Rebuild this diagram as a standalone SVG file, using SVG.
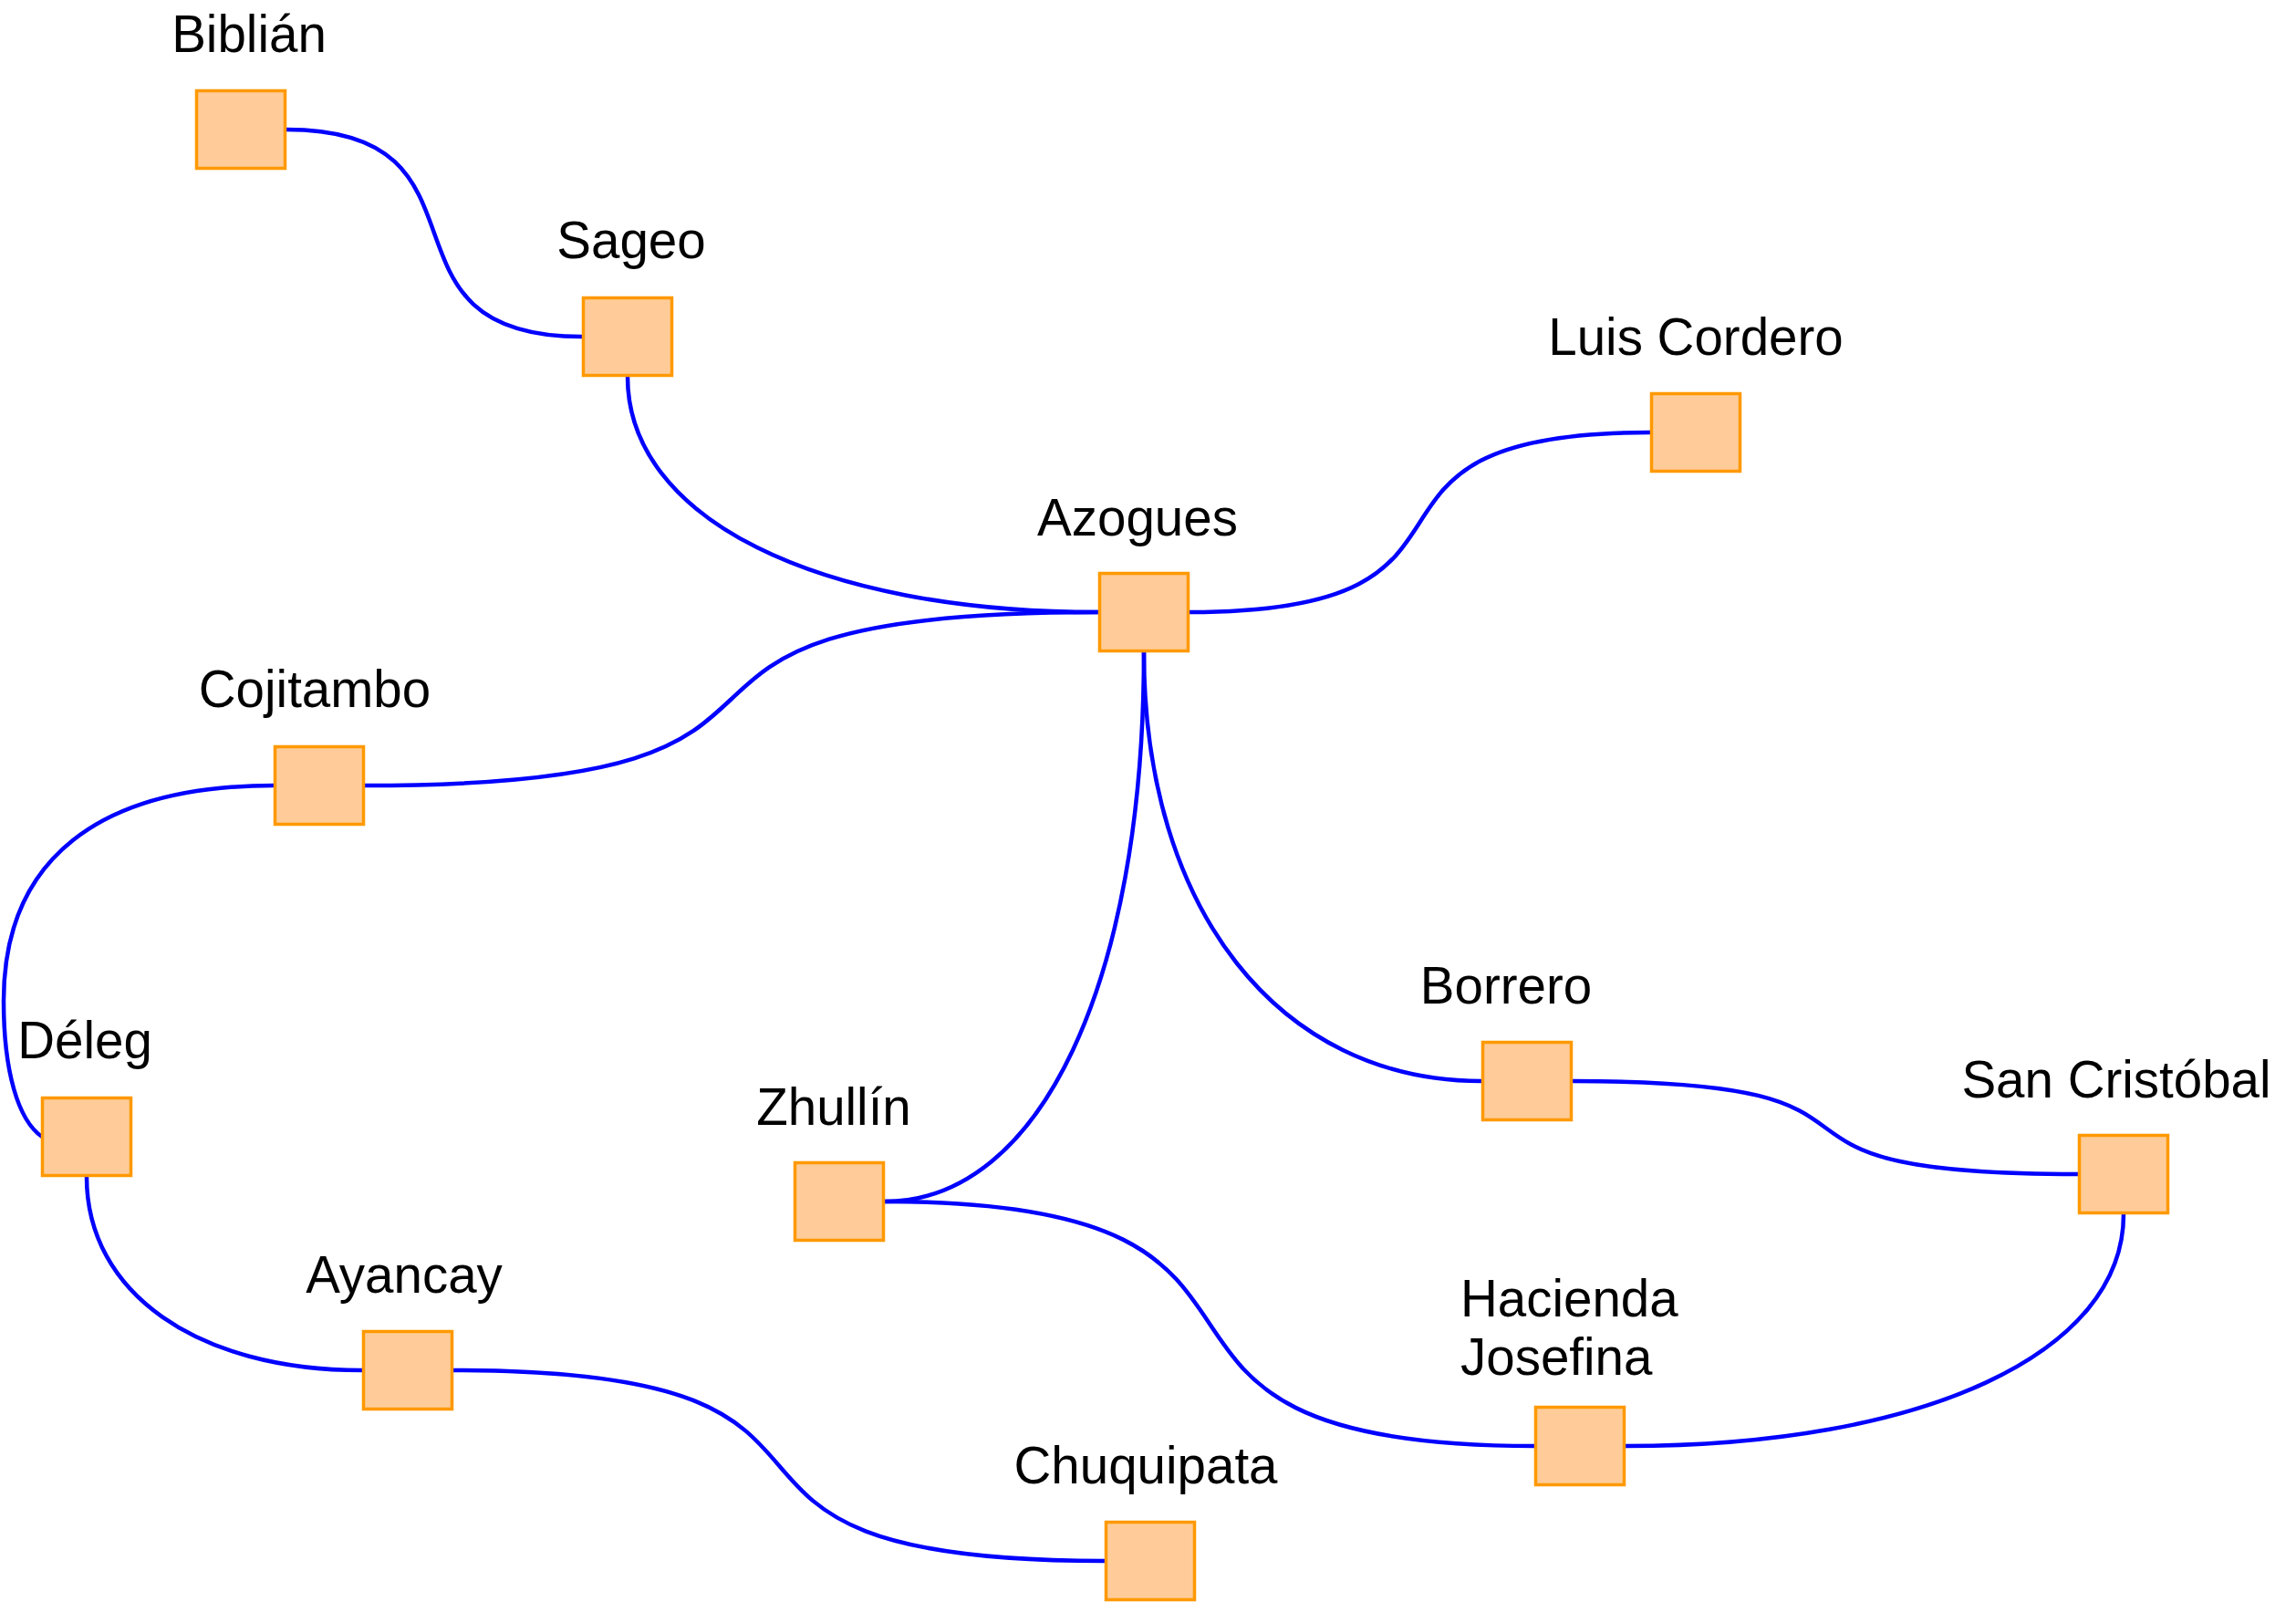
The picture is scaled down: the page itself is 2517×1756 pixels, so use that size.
<svg xmlns="http://www.w3.org/2000/svg" width="2517" height="1756" viewBox="0 0 2517 1756">
<style>
.edge{fill:none;stroke:#0000ff;stroke-width:4.5}
.box{fill:#ffcc99;stroke:#ff9900;stroke-width:3.5}
.lbl{font-family:"Liberation Sans",Arial,sans-serif;font-size:56.5px;fill:#000;text-anchor:middle}
</style>
<rect width="2517" height="1756" fill="#ffffff"/>
<g id="connectors">
<path class="edge" d="M314,142 C557,142 395,369 638,369"/>
<path class="edge" d="M688,413 C688,567.8 894.4,671 1204,671"/>
<path class="edge" d="M1304,671 C1682.75,671 1430.25,474 1809,474"/>
<path class="edge" d="M1204,671 C601,671 1003,861 400,861"/>
<path class="edge" d="M300,861 C107,861 4,943 4,1097 C4,1175 20,1228 46,1246"/>
<path class="edge" d="M95,1290 C95,1417 215.8,1502 397,1502"/>
<path class="edge" d="M497,1502 C1032.5,1502 675.5,1711 1211,1711"/>
<path class="edge" d="M1254,715 C1254,1076.2 1140.4,1317 970,1317"/>
<path class="edge" d="M1254,715 C1254,997 1402,1185 1624,1185"/>
<path class="edge" d="M970,1317 C1504,1317 1148,1585 1682,1585"/>
<path class="edge" d="M1724,1185 C2139.5,1185 1862.5,1287 2278,1287"/>
<path class="edge" d="M2328,1331 C2328,1483.4 2109.6,1585 1782,1585"/>
</g>
<g id="node-biblian"><rect class="box" x="215.5" y="99.5" width="97" height="85"/><text class="lbl" x="273" y="57">Biblián</text></g>
<g id="node-sageo"><rect class="box" x="639.5" y="326.5" width="97" height="85"/><text class="lbl" x="692" y="283">Sageo</text></g>
<g id="node-luis-cordero"><rect class="box" x="1810.5" y="431.5" width="97" height="85"/><text class="lbl" x="1859" y="389">Luis Cordero</text></g>
<g id="node-azogues"><rect class="box" x="1205.5" y="628.5" width="97" height="85"/><text class="lbl" x="1247" y="587">Azogues</text></g>
<g id="node-cojitambo"><rect class="box" x="301.5" y="818.5" width="97" height="85"/><text class="lbl" x="345" y="775">Cojitambo</text></g>
<g id="node-deleg"><rect class="box" x="46.5" y="1203.5" width="97" height="85"/><text class="lbl" x="93" y="1160">Déleg</text></g>
<g id="node-zhullin"><rect class="box" x="871.5" y="1274.5" width="97" height="85"/><text class="lbl" x="914" y="1233">Zhullín</text></g>
<g id="node-borrero"><rect class="box" x="1625.5" y="1142.5" width="97" height="85"/><text class="lbl" x="1651" y="1100">Borrero</text></g>
<g id="node-san-cristobal"><rect class="box" x="2279.5" y="1244.5" width="97" height="85"/><text class="lbl" x="2320" y="1203">San Cristóbal</text></g>
<g id="node-ayancay"><rect class="box" x="398.5" y="1459.5" width="97" height="85"/><text class="lbl" x="443" y="1417">Ayancay</text></g>
<g id="node-hacienda-josefina"><rect class="box" x="1683.5" y="1542.5" width="97" height="85"/><text class="lbl" style="text-anchor:start" x="1601" y="1443"><tspan x="1601" y="1443">Hacienda</tspan><tspan x="1601" y="1507">Josefina</tspan></text></g>
<g id="node-chuquipata"><rect class="box" x="1212.5" y="1668.5" width="97" height="85"/><text class="lbl" x="1256" y="1626">Chuquipata</text></g>
</svg>
